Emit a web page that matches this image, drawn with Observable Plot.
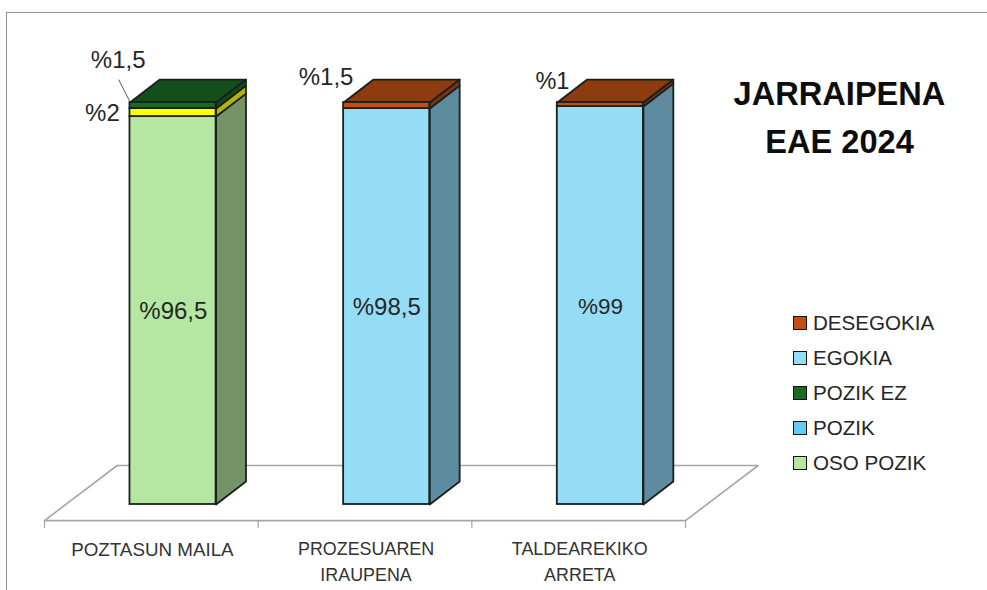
<!DOCTYPE html>
<html><head><meta charset="utf-8">
<script src="https://cdn.jsdelivr.net/npm/d3@7"></script>
<script src="https://cdn.jsdelivr.net/npm/@observablehq/plot@0.6"></script>
<style>
html,body{margin:0;padding:0;background:#fff}
#wrap{position:relative;width:987px;height:590px;overflow:hidden}
#legend{position:absolute;left:793px;top:306px;font:20.6px "Liberation Sans",Arial,sans-serif;color:#262626}
#legend div{height:34.8px;display:flex;align-items:center;white-space:nowrap}
#legend i{display:inline-block;width:12px;height:12px;border:1.5px solid #111;margin-right:6px}
#frame{position:absolute;left:6px;top:12px;width:1100px;height:700px;border:1px solid #8f8f8f;box-sizing:border-box;pointer-events:none}
</style></head><body>
<div id="wrap"><div id="chart"></div><div id="legend"></div><div id="frame"></div></div>
<script>
const categories = ["POZTASUN MAILA", "PROZESUAREN\nIRAUPENA", "TALDEAREKIKO\nARRETA"];
const osoPozik  = [96.5, 0, 0];
const pozik     = [2, 0, 0];
const pozikEz   = [1.5, 0, 0];
const egokia    = [0, 98.5, 99];
const desegokia = [0, 1.5, 1];
const seriesNames = ["OSO POZIK", "POZIK", "POZIK EZ", "EGOKIA", "DESEGOKIA"];
const seriesValues = [osoPozik, pozik, pozikEz, egokia, desegokia];
const legendColors = ["#b5e6a2", "#61cbf3", "#196b24", "#95dcf7", "#c04f15"];
const frontColors = ["#b5e6a2", "#ffff00", "#196b24", "#95dcf7", "#c04f15"];
const sideColors  = ["#749468", "#b3b300", "#124a19", "#5f8ba0", "#7c3410"];
const topColors   = ["#749468", "#b3b300", "#144f1b", "#5f8ba0", "#8f3b10"];
const valueLabels = ["%96,5", "%2", "%1,5", "%98,5", "%1,5", "%99", "%1"];
const categorySizes = [18.8, 17.9, 17.9];
const title = "JARRAIPENA\nEAE 2024";

// Projection of the 3D box, in scale units
const barW = 0.403, barStart = 0.4;
const depthX = 0.14, depthY = 5.7;
const floorX = 0.34, floorFront = -4, floorBack = 9.7;

const segs = [];
categories.forEach((c, i) => {
  let acc = 0;
  seriesValues.forEach((vals, s) => {
    const v = vals[i];
    if (!v) return;
    segs.push({cat: i, s, y0: acc, y1: acc + v, x0: i + barStart, x1: i + barStart + barW, v});
    acc += v;
  });
});
const poly = [];
segs.forEach((d, k) => {
  const side = "s" + k;
  [[d.x1, d.y0], [d.x1 + depthX, d.y0 + depthY], [d.x1 + depthX, d.y1 + depthY], [d.x1, d.y1], [d.x1, d.y0]]
    .forEach(([x, y]) => poly.push({x, y, z: side, fill: sideColors[d.s]}));
  const next = segs[k + 1];
  if (!next || next.cat !== d.cat) {
    const t = "t" + k;
    [[d.x0, d.y1], [d.x1, d.y1], [d.x1 + depthX, d.y1 + depthY], [d.x0 + depthX, d.y1 + depthY], [d.x0, d.y1]]
      .forEach(([x, y]) => poly.push({x, y, z: t, fill: topColors[d.s]}));
  }
});
const floor = [[0, floorFront], [3, floorFront], [3 + floorX, floorBack], [floorX, floorBack], [0, floorFront]]
  .map(([x, y]) => ({x, y}));
const ticks = [0, 1, 2, 3];

const labelAt = [
  {x: 0.603, y: 48.0, t: valueLabels[0], f: 24},
  {x: 1.602, y: 49.0, t: valueLabels[3], f: 24},
  {x: 2.602, y: 49.25, t: valueLabels[5], f: 22.5},
  {x: 0.271, y: 97.3, t: valueLabels[1], f: 24},
  {x: 0.345, y: 110.4, t: valueLabels[2], f: 24},
  {x: 1.318, y: 106.2, t: valueLabels[4], f: 24},
  {x: 2.377, y: 105.2, t: valueLabels[6], f: 23.5}
];

const chart = Plot.plot({
  width: 987, height: 590,
  marginTop: 0, marginBottom: 0, marginLeft: 0, marginRight: 0,
  x: {type: "linear", domain: [0, 3], range: [44, 685], axis: null},
  y: {type: "linear", domain: [0, 100], range: [504, 102], axis: null},
  marks: [
    Plot.line(floor, {x: "x", y: "y", stroke: "#a6a6a6", strokeWidth: 1.6}),
    Plot.ruleX(ticks, {x: d => d, y1: floorFront, y2: floorFront - 2, stroke: "#a6a6a6", strokeWidth: 1.2}),
    Plot.line(poly, {x: "x", y: "y", z: "z", fill: "fill", stroke: "#1a201b", strokeWidth: 1.8, strokeLinejoin: "round"}),
    Plot.rect(segs, {x1: "x0", x2: "x1", y1: "y0", y2: "y1", fill: d => frontColors[d.s], stroke: "#1a201b", strokeWidth: 1.8}),
    Plot.link([{x1: 0.4, y1: 100.2, x2: 0.347, y2: 105.7}], {x1: "x1", y1: "y1", x2: "x2", y2: "y2", stroke: "#595959", strokeWidth: 1}),
    Plot.text(labelAt, {x: "x", y: "y", text: "t", fontSize: "f", fontFamily: "Liberation Sans", fill: "#262626"}),
    Plot.text(categories.map((c, i) => ({c, x: i + 0.505, f: categorySizes[i]})), {x: "x", y: floorFront - 2, text: "c", dy: 8, lineHeight: 1.45, fontSize: "f", fontFamily: "Liberation Sans", fill: "#333", lineAnchor: "top"}),
    Plot.text([title], {text: d => d, frameAnchor: "top-left", dx: 839, dy: 113, fontSize: 32.6, lineHeight: 1.47, fontWeight: 700, fontFamily: "Liberation Sans", fill: "#0d0d0d", textAnchor: "middle", lineAnchor: "middle"})
  ]
});
document.getElementById("chart").appendChild(chart);
const lg = document.getElementById("legend");
[...seriesNames.keys()].reverse().forEach(i => {
  const row = document.createElement("div");
  const sw = document.createElement("i");
  sw.style.background = legendColors[i];
  row.append(sw, seriesNames[i]);
  lg.appendChild(row);
});
</script>
</body></html>
